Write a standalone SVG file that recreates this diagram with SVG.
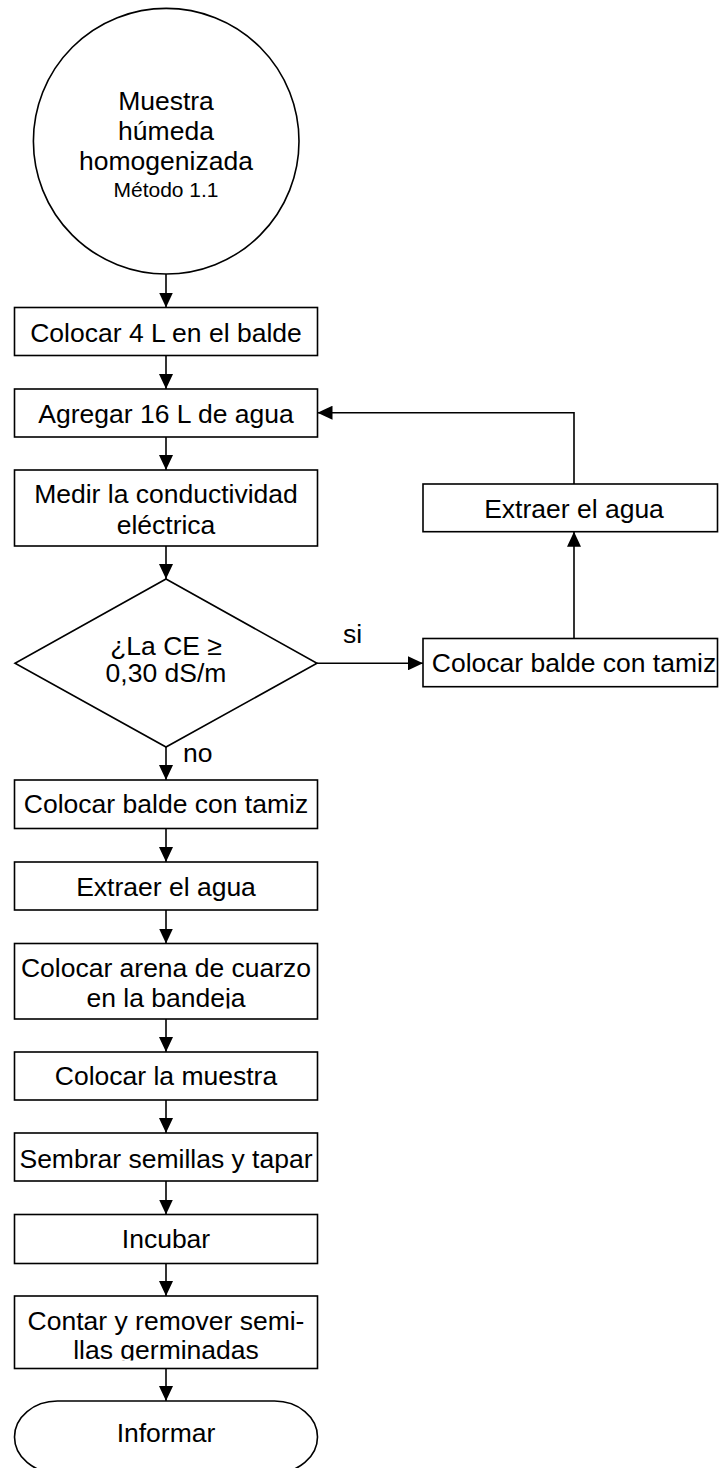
<svg xmlns="http://www.w3.org/2000/svg" width="719" height="1468" viewBox="0 0 719 1468">
<style>
.n{fill:#fff;stroke:#000;stroke-width:1.6}
.t{font-family:"Liberation Sans",Arial,sans-serif;font-size:26.5px;fill:#000;text-anchor:middle}
.s{font-size:21px}
.l{font-family:"Liberation Sans",Arial,sans-serif;font-size:26.5px;fill:#000}
.c{fill:none;stroke:#000;stroke-width:1.6;marker-end:url(#ah)}
</style>
<defs>
<marker id="ah" markerUnits="userSpaceOnUse" markerWidth="15" markerHeight="14" refX="15" refY="7" orient="auto">
<path d="M0,0 L15,7 L0,14 z" fill="#000"/>
</marker>
<clipPath id="cp7"><rect x="14" y="943" width="304" height="65.5"/></clipPath>
<clipPath id="cp11"><rect x="14" y="1295" width="304" height="65.5"/></clipPath>
</defs>
<g id="connectors">
<path class="c" d="M166,274 V307.5"/>
<path class="c" d="M166,355.5 V389"/>
<path class="c" d="M166,437 V470"/>
<path class="c" d="M166,546 V579"/>
<path class="c" d="M166,747 V780"/>
<path class="c" d="M166,828.5 V862"/>
<path class="c" d="M166,910 V943.5"/>
<path class="c" d="M166,1019 V1052"/>
<path class="c" d="M166,1100 V1133"/>
<path class="c" d="M166,1181 V1214.5"/>
<path class="c" d="M166,1263.5 V1296"/>
<path class="c" d="M166,1368.5 V1401"/>
<path class="c" d="M317,663.3 H423"/>
<path class="c" d="M574,638.5 V531.7"/>
<path class="c" d="M574,484 V412.7 H317.5"/>
</g>
<g id="start">
<circle class="n" cx="166.2" cy="141.2" r="132.8"/>
<text class="t" x="166" y="110">Muestra</text>
<text class="t" x="166" y="140">húmeda</text>
<text class="t" x="166" y="170">homogenizada</text>
<text class="t s" x="166" y="197">Método 1.1</text>
</g>
<g id="b1">
<rect class="n" x="14.5" y="307.5" width="303" height="48"/>
<text class="t" x="166" y="341.7">Colocar 4 L en el balde</text>
</g>
<g id="b2">
<rect class="n" x="14.5" y="389" width="303" height="48"/>
<text class="t" x="166" y="423.3">Agregar 16 L de agua</text>
</g>
<g id="b3">
<rect class="n" x="14.5" y="470" width="303" height="76"/>
<text class="t" x="166" y="503.3">Medir la conductividad</text>
<text class="t" x="166" y="534.3">eléctrica</text>
</g>
<g id="decision">
<path class="n" d="M166,579 L317,663.3 L166,747 L15,663.3 Z"/>
<text class="t" x="166" y="655">¿La CE ≥</text>
<text class="t" x="166" y="682.3">0,30 dS/m</text>
</g>
<g id="label-si"><text class="l" x="343" y="642.7">si</text></g>
<g id="label-no"><text class="l" x="183" y="762">no</text></g>
<g id="r1">
<rect class="n" x="423" y="638.5" width="294.5" height="48.2"/>
<text class="t" x="574" y="671.7">Colocar balde con tamiz</text>
</g>
<g id="r2">
<rect class="n" x="423" y="484" width="294.5" height="47.7"/>
<text class="t" x="574" y="517.7">Extraer el agua</text>
</g>
<g id="b5">
<rect class="n" x="14.5" y="780" width="303" height="48.5"/>
<text class="t" x="166" y="813.3">Colocar balde con tamiz</text>
</g>
<g id="b6">
<rect class="n" x="14.5" y="862" width="303" height="48"/>
<text class="t" x="166" y="895.7">Extraer el agua</text>
</g>
<g id="b7">
<rect class="n" x="14.5" y="943.5" width="303" height="75.5"/>
<text class="t" x="166" y="976.7">Colocar arena de cuarzo</text>
<text class="t" x="166" y="1006.7" clip-path="url(#cp7)">en la bandeja</text>
</g>
<g id="b8">
<rect class="n" x="14.5" y="1052" width="303" height="48"/>
<text class="t" x="166" y="1085">Colocar la muestra</text>
</g>
<g id="b9">
<rect class="n" x="14.5" y="1133" width="303" height="48"/>
<text class="t" x="166" y="1167.7">Sembrar semillas y tapar</text>
</g>
<g id="b10">
<rect class="n" x="14.5" y="1214.5" width="303" height="49"/>
<text class="t" x="166" y="1248.3">Incubar</text>
</g>
<g id="b11">
<rect class="n" x="14.5" y="1296" width="303" height="72.5"/>
<text class="t" x="166" y="1330">Contar y remover semi-</text>
<text class="t" x="166" y="1359.3" clip-path="url(#cp11)">llas germinadas</text>
</g>
<g id="end">
<rect class="n" x="14.5" y="1401" width="303" height="72" rx="43" ry="36"/>
<text class="t" x="166" y="1441.7">Informar</text>
</g>
</svg>
